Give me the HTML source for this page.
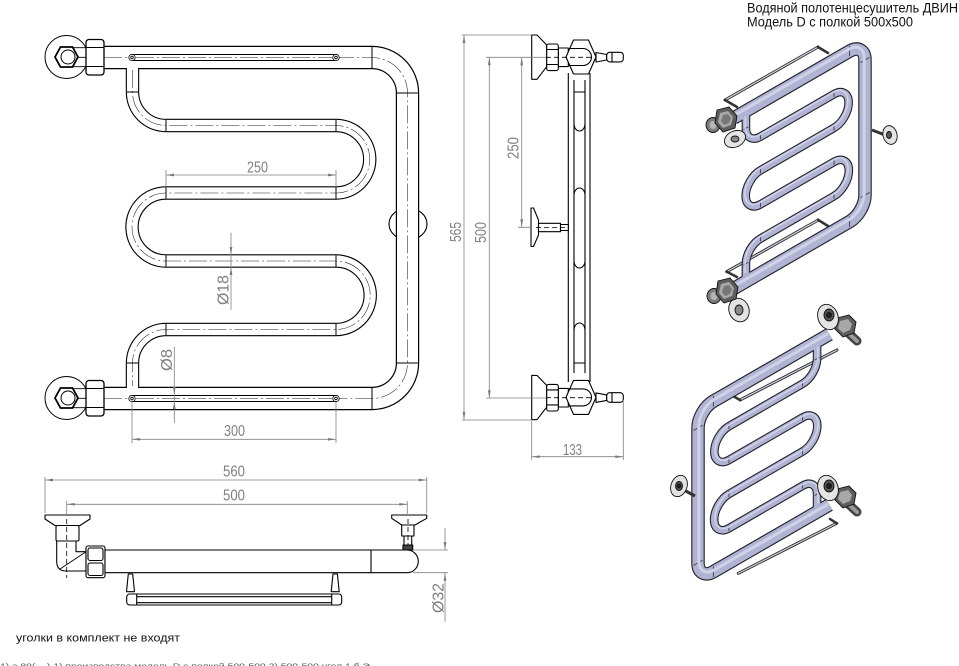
<!DOCTYPE html>
<html><head><meta charset="utf-8">
<style>
html,body{margin:0;padding:0;background:#fff;}
svg{display:block;}
text{font-family:"Liberation Sans","DejaVu Sans",sans-serif;}
</style></head><body>
<svg width="959" height="666" viewBox="0 0 959 666" xmlns="http://www.w3.org/2000/svg">
<defs>
<marker id="ar" viewBox="0 0 10 4" refX="10" refY="2" markerWidth="9" markerHeight="3.2" orient="auto-start-reverse" markerUnits="userSpaceOnUse"><path d="M0 0.3 L10 2 L0 3.7 Z" fill="#7a7a7a"/></marker>
<g id="sfit" stroke="#000" stroke-width="1.1" fill="#fff" stroke-linejoin="round">
 <path d="M531.7 35H537L546.7 45V66.7L537 79.3H531.7Z"/>
 <rect x="558.3" y="48" width="10" height="18.6"/>
 <rect x="546.7" y="44" width="11.6" height="26.6" rx="2"/>
 <path d="M546.7 49.5H558.3M546.7 64.5H558.3" fill="none"/>
 <path d="M566 57L573.5 40H588.5L596 57L588.5 74H573.5Z"/>
 <path d="M569 48.5H583A8.5 8.5 0 0 1 583 65.5H569" fill="none"/>
 <path d="M596 52.5L606.7 54.5V60L596 62Z"/>
 <rect x="606.7" y="52.3" width="16.6" height="9.6" rx="3"/>
 <path d="M612 52.3V61.9" fill="none"/>
 <path d="M546 57.3H592" stroke-dasharray="5 3" stroke-width="0.8" fill="none"/>
</g>
<g id="ffit" fill="none" stroke="#000">
 <circle cx="66.5" cy="57" r="21.5" stroke-width="1"/>
 <path d="M72 47.7H86M72 57.3H86M72 66.7H86" stroke-width="0.9"/>
 <polygon points="55,57 60.5,47 72.5,47 78,57 72.5,67 60.5,67" fill="#fff" stroke-width="1.8"/>
 <circle cx="68" cy="57" r="7" stroke-width="1"/>
 <rect x="86" y="39.5" width="18" height="35.5" rx="3" fill="#fff" stroke-width="1.3"/>
 <path d="M86 47.5H104M86 66.5H104" stroke-width="1"/>
</g>
<g id="isofit" stroke="#111" stroke-width="0.9">
 <ellipse cx="-10" cy="4" rx="7" ry="7.5" fill="#7c7c7c"/>
 <ellipse cx="-10" cy="4" rx="3.5" ry="4" fill="#b5b5b5" stroke="none"/>
 <polygon points="-6,-11 6,-14 14,-5 12,7 0,11 -8,2" fill="#5e5e5e"/>
 <polygon points="-3,-8 5,-10 10,-4 8,4 0,7 -5,1" fill="#a8a8a8" stroke="none"/>
 <polygon points="0,-6 5,-7 8,-3 6,2 1,4 -2,0" fill="#777" stroke="none"/>
</g>
<g id="isofit2" stroke="#111" stroke-width="0.9">
 <path d="M2 3L14 14" stroke="#444" stroke-width="9" stroke-linecap="round"/>
 <path d="M2 3L14 14" stroke="#9a9a9a" stroke-width="4" stroke-linecap="round"/>
 <polygon points="-6,-9 6,-12 13,-5 11,6 0,10 -8,2" fill="#5e5e5e"/>
 <polygon points="-3,-6 5,-8 9,-3 7,3 0,6 -5,1" fill="#a8a8a8" stroke="none"/>
 <ellipse cx="-15" cy="-10" rx="10" ry="13" transform="rotate(-20 -15 -10)" fill="#e4e4e4"/>
 <ellipse cx="-14" cy="-12" rx="5" ry="6" fill="#555"/>
 <circle cx="-14" cy="-12" r="2.5" fill="#222"/>
</g>
</defs>

<!-- ================= FRONT VIEW ================= -->
<g fill="none" stroke-linejoin="round">
 <ellipse cx="408" cy="224" rx="19" ry="16" fill="#fff" stroke="#000" stroke-width="1.1"/>
 <path d="M104 57.5H372A35.5 35.5 0 0 1 407.5 93V363A35.5 35.5 0 0 1 372 398.5H104" stroke="#000" stroke-width="23.4"/>
 <path d="M132.5 60V92A33.5 33.5 0 0 0 166 125.5H336A33.75 33.75 0 0 1 336 193H166A34 34 0 0 0 166 261H336A34.25 34.25 0 0 1 336 329.5H166A33.5 33.5 0 0 0 132.5 363V396" stroke="#000" stroke-width="13.4"/>
 <path d="M104 57.5H372A35.5 35.5 0 0 1 407.5 93V363A35.5 35.5 0 0 1 372 398.5H104" stroke="#fff" stroke-width="21"/>
 <path d="M132.5 60V92A33.5 33.5 0 0 0 166 125.5H336A33.75 33.75 0 0 1 336 193H166A34 34 0 0 0 166 261H336A34.25 34.25 0 0 1 336 329.5H166A33.5 33.5 0 0 0 132.5 363V396" stroke="#fff" stroke-width="11.2"/>
 <path d="M336 57.5H372A35.5 35.5 0 0 1 407.5 93V363A35.5 35.5 0 0 1 372 398.5H336" stroke="#222" stroke-width="0.55" stroke-dasharray="18 3 2 3"/>
 <path d="M132.5 70V92A33.5 33.5 0 0 0 166 125.5H336A33.75 33.75 0 0 1 336 193H166A34 34 0 0 0 166 261H336A34.25 34.25 0 0 1 336 329.5H166A33.5 33.5 0 0 0 132.5 363V386" stroke="#222" stroke-width="0.55" stroke-dasharray="18 3 2 3"/>
 <path d="M372 46.8V68.2M372 387.8V409.2M396.8 93H418.2M396.8 363H418.2M126.9 92H138.1M126.9 363H138.1M166 119.9V131.1M336 119.9V131.1M166 187.4V198.6M336 187.4V198.6M166 255.4V266.6M336 255.4V266.6M166 323.9V335.1M336 323.9V335.1" stroke="#000" stroke-width="1"/>
 <rect x="132" y="54.5" width="204" height="6" fill="#fff" stroke="#000" stroke-width="0.9"/>
 <rect x="132" y="395.5" width="204" height="6" fill="#fff" stroke="#000" stroke-width="0.9"/>
 <path d="M136 57.5H332M136 398.5H332M104 57.5H128M104 398.5H128" stroke="#222" stroke-width="0.55" stroke-dasharray="18 3 2 3"/>
 <g fill="#fff" stroke="#000" stroke-width="0.8">
  <circle cx="132" cy="57.5" r="3.2"/><circle cx="336" cy="57.5" r="3.2"/>
  <circle cx="132" cy="398.5" r="3.2"/><circle cx="336" cy="398.5" r="3.2"/>
  <circle cx="132" cy="57.5" r="1.3"/><circle cx="336" cy="57.5" r="1.3"/>
  <circle cx="132" cy="398.5" r="1.3"/><circle cx="336" cy="398.5" r="1.3"/>
 </g>
</g>
<use href="#ffit"/>
<use href="#ffit" transform="translate(0,341)"/>

<g fill="none" stroke="#808080" stroke-width="0.8">
 <path d="M166 170V187M336 170V187"/>
 <path d="M166 175H336" marker-start="url(#ar)" marker-end="url(#ar)"/>
 <path d="M132 402V443M336 402V443"/>
 <path d="M132 439.3H336" marker-start="url(#ar)" marker-end="url(#ar)"/>
 <path d="M231 255V267"/>
 <path d="M231 232.7V255" marker-end="url(#ar)"/>
 <path d="M231 310V267" marker-end="url(#ar)"/>
 <path d="M174.3 395V401"/>
 <path d="M174.3 346.7V395" marker-end="url(#ar)"/>
 <path d="M174.3 423V401" marker-end="url(#ar)"/>
</g>
<g fill="#7f7f7f" font-size="16" text-anchor="middle">
 <text x="257.5" y="172.5" textLength="21" lengthAdjust="spacingAndGlyphs">250</text>
 <text x="234.5" y="436" textLength="21" lengthAdjust="spacingAndGlyphs">300</text>
 <text transform="translate(228.5,290) rotate(-90)" textLength="30" lengthAdjust="spacingAndGlyphs">Ø18</text>
 <text transform="translate(172,360) rotate(-90)" textLength="22" lengthAdjust="spacingAndGlyphs">Ø8</text>
</g>

<!-- ================= SIDE VIEW ================= -->
<g fill="none" stroke="#000" stroke-width="1.1" stroke-linejoin="round">
 <path d="M568.3 73V382M590 73V382M574 80V373M585 80V373"/>
 <path d="M574 92H585M574 363H585"/>
 <path d="M574 124A5.5 7 0 0 0 585 124M574 195A5.5 7 0 0 1 585 195M574 261A5.5 7 0 0 0 585 261M574 330A5.5 7 0 0 1 585 330"/>
 <path d="M531 208H533.5L538.5 220V235L533.5 246.5H531Z" fill="#fff"/>
 <rect x="538.5" y="223.3" width="22" height="8.4" fill="#fff"/>
 <rect x="560.5" y="224.5" width="7.8" height="6" fill="#fff"/>
 <path d="M536 227.4H566" stroke-dasharray="5 3" stroke-width="0.8"/>
</g>
<use href="#sfit"/>
<use href="#sfit" transform="translate(0,340.4)"/>
<g fill="none" stroke="#808080" stroke-width="0.8">
 <path d="M462 35H531.7M462 420H531.7M486 57.3H546M486 398H546M518 227.3H531M531.7 421V460M623.3 400V460"/>
 <path d="M464 35V420" marker-start="url(#ar)" marker-end="url(#ar)"/>
 <path d="M489.3 57.3V398.3" marker-start="url(#ar)" marker-end="url(#ar)"/>
 <path d="M521.7 57.3V227.3" marker-start="url(#ar)" marker-end="url(#ar)"/>
 <path d="M531.7 456.7H623.3" marker-start="url(#ar)" marker-end="url(#ar)"/>
</g>
<g fill="#7f7f7f" font-size="16" text-anchor="middle">
 <text transform="translate(461,232) rotate(-90)" textLength="20" lengthAdjust="spacingAndGlyphs">565</text>
 <text transform="translate(486,232.5) rotate(-90)" textLength="21" lengthAdjust="spacingAndGlyphs">500</text>
 <text transform="translate(518.5,148) rotate(-90)" textLength="22" lengthAdjust="spacingAndGlyphs">250</text>
 <text x="572.5" y="455" textLength="19" lengthAdjust="spacingAndGlyphs">133</text>
</g>

<!-- ================= BOTTOM VIEW ================= -->
<g stroke="#000" stroke-width="1.1" fill="#fff" stroke-linejoin="round">
 <path d="M45 515H90V519L80 525.5H55L45 519Z"/>
 <rect x="56" y="525.5" width="23" height="15.5" rx="1.5"/>
 <path d="M56.7 541V562Q57 571 66 571H86V551.7H76V541Z"/>
 <path d="M60 569L86 551.7" fill="none" stroke-width="0.9"/>
 <rect x="86" y="546" width="19" height="31.7" rx="2"/>
 <rect x="88" y="548" width="15" height="12.5" rx="2"/>
 <rect x="88" y="563" width="15" height="12.5" rx="2"/>
 <path d="M105 550H407A11.3 11.35 0 0 1 407 572.7H105Z"/>
 <path d="M371 550V572.7" fill="none"/>
 <path d="M391.7 515H426.7V518.3L415 525H401.7L391.7 518.3Z"/>
 <rect x="401.7" y="525" width="12.3" height="11"/>
 <rect x="404" y="536" width="7.7" height="9"/>
 <rect x="403" y="545" width="9.7" height="5" fill="#444"/>
 <path d="M128.3 574H132.7L134.5 591.7H126.5Z"/>
 <path d="M333 574H337.4L339.2 591.7H331.2Z"/>
 <rect x="126.7" y="594" width="215" height="11" rx="3"/>
 <path d="M136.7 596.7H331.7M136.7 602.7H331.7M136.7 594V605M331.7 594V605" fill="none"/>
 <path d="M408 519V545M66.7 519V578" fill="none" stroke-dasharray="5 3" stroke-width="0.8"/>
</g>
<g fill="none" stroke="#808080" stroke-width="0.8">
 <path d="M45 477V513M426.7 477V513M66.7 501V516M407.3 501V515M413 550H448M413 572.7H448"/>
 <path d="M45 480H426.7" marker-start="url(#ar)" marker-end="url(#ar)"/>
 <path d="M66.7 504.3H407.3" marker-start="url(#ar)" marker-end="url(#ar)"/>
 <path d="M445 528V550" marker-end="url(#ar)"/>
 <path d="M445 621.7V572.7" marker-end="url(#ar)"/>
</g>
<g fill="#7f7f7f" font-size="16" text-anchor="middle">
 <text x="234" y="476.7" textLength="22" lengthAdjust="spacingAndGlyphs">560</text>
 <text x="234" y="500.7" textLength="22" lengthAdjust="spacingAndGlyphs">500</text>
 <text transform="translate(443.5,598) rotate(-90)" textLength="30" lengthAdjust="spacingAndGlyphs">Ø32</text>
</g>

<!-- ================= ISO VIEW 1 (top) ================= -->
<g stroke-linecap="round">
 <path d="M725 100L818 47M726.7 271.7L818.3 220" stroke="#222" stroke-width="3"/>
 <path d="M725 100L818 47M726.7 271.7L818.3 220" stroke="#c8c9d8" stroke-width="1.3"/>
 <path d="M725 100L737 107M818 47L828 53M726.7 271.7L737 277M818.3 220L828 226" stroke="#333" stroke-width="2.5"/>
</g>
<g transform="matrix(0.433,-0.25,0,0.5,688.55,115.375)" fill="none" stroke-linejoin="round">
 <path d="M104 57.5H372A35.5 35.5 0 0 1 407.5 93V363A35.5 35.5 0 0 1 372 398.5H104" stroke="#23232e" stroke-width="13.5" vector-effect="non-scaling-stroke"/>
 <path d="M132.5 60V92A33.5 33.5 0 0 0 166 125.5H336A33.75 33.75 0 0 1 336 193H166A34 34 0 0 0 166 261H336A34.25 34.25 0 0 1 336 329.5H166A33.5 33.5 0 0 0 132.5 363V396" stroke="#23232e" stroke-width="8.6" vector-effect="non-scaling-stroke"/>
 <path d="M104 57.5H372A35.5 35.5 0 0 1 407.5 93V363A35.5 35.5 0 0 1 372 398.5H104" stroke="#b1b3d3" stroke-width="11.2" vector-effect="non-scaling-stroke"/>
 <path d="M132.5 60V92A33.5 33.5 0 0 0 166 125.5H336A33.75 33.75 0 0 1 336 193H166A34 34 0 0 0 166 261H336A34.25 34.25 0 0 1 336 329.5H166A33.5 33.5 0 0 0 132.5 363V396" stroke="#b1b3d3" stroke-width="6.4" vector-effect="non-scaling-stroke"/>
 <path d="M372 47V68M372 388V409M397 93H418M397 363H418M127 92H138M127 363H138M166 120V131M336 120V131M166 187V199M336 187V199M166 255V267M336 255V267M166 324V335M336 324V335" stroke="#3a3a50" stroke-width="0.9" vector-effect="non-scaling-stroke"/>
</g>
<g transform="translate(-0.8,-1.8)"><g transform="matrix(0.433,-0.25,0,0.5,688.55,115.375)" fill="none">
 <path d="M108 57.5H372A35.5 35.5 0 0 1 407.5 93V363A35.5 35.5 0 0 1 372 398.5H108" stroke="#d0d2e8" stroke-width="3" vector-effect="non-scaling-stroke"/>
 <path d="M132.5 72V92A33.5 33.5 0 0 0 166 125.5H336A33.75 33.75 0 0 1 336 193H166A34 34 0 0 0 166 261H336A34.25 34.25 0 0 1 336 329.5H166A33.5 33.5 0 0 0 132.5 363V385" stroke="#d0d2e8" stroke-width="1.6" vector-effect="non-scaling-stroke"/>
</g></g>
<g stroke="#111" stroke-width="0.9">
 <path d="M872 130L885 135" stroke="#333" stroke-width="3"/>
 <ellipse cx="890" cy="135" rx="7" ry="9.5" transform="rotate(-15 890 135)" fill="#e2e2e2"/>
 <ellipse cx="889" cy="135" rx="2.5" ry="3.5" fill="#555"/>
 <ellipse cx="735" cy="139" rx="11" ry="8" transform="rotate(-25 735 139)" fill="#e4e4e4"/>
 <ellipse cx="735" cy="139" rx="4" ry="3" fill="#888"/>
 <ellipse cx="739" cy="310" rx="10" ry="12" transform="rotate(-20 739 310)" fill="#e4e4e4"/>
 <ellipse cx="739" cy="310" rx="4" ry="5" fill="#888"/>
</g>
<use href="#isofit" transform="translate(723,121)"/>
<use href="#isofit" transform="translate(724,292)"/>

<!-- ================= ISO VIEW 2 (bottom, mirrored) ================= -->
<g stroke-linecap="round">
 <path d="M837 350L740 400M836.7 523.3L738.3 573.3" stroke="#222" stroke-width="3"/>
 <path d="M837 350L740 400M836.7 523.3L738.3 573.3" stroke="#c8c9d8" stroke-width="1.3"/>
 <path d="M740 400L733 396M836.7 523.3L830 519" stroke="#333" stroke-width="2.5"/>
</g>
<g transform="matrix(-0.433,0.25,0,0.5,874.45,279.5)" fill="none" stroke-linejoin="round">
 <path d="M104 57.5H372A35.5 35.5 0 0 1 407.5 93V363A35.5 35.5 0 0 1 372 398.5H104" stroke="#23232e" stroke-width="13.5" vector-effect="non-scaling-stroke"/>
 <path d="M132.5 60V92A33.5 33.5 0 0 0 166 125.5H336A33.75 33.75 0 0 1 336 193H166A34 34 0 0 0 166 261H336A34.25 34.25 0 0 1 336 329.5H166A33.5 33.5 0 0 0 132.5 363V396" stroke="#23232e" stroke-width="8.6" vector-effect="non-scaling-stroke"/>
 <path d="M104 57.5H372A35.5 35.5 0 0 1 407.5 93V363A35.5 35.5 0 0 1 372 398.5H104" stroke="#b1b3d3" stroke-width="11.2" vector-effect="non-scaling-stroke"/>
 <path d="M132.5 60V92A33.5 33.5 0 0 0 166 125.5H336A33.75 33.75 0 0 1 336 193H166A34 34 0 0 0 166 261H336A34.25 34.25 0 0 1 336 329.5H166A33.5 33.5 0 0 0 132.5 363V396" stroke="#b1b3d3" stroke-width="6.4" vector-effect="non-scaling-stroke"/>
 <path d="M372 47V68M372 388V409M397 93H418M397 363H418M127 92H138M127 363H138M166 120V131M336 120V131M166 187V199M336 187V199M166 255V267M336 255V267M166 324V335M336 324V335" stroke="#3a3a50" stroke-width="0.9" vector-effect="non-scaling-stroke"/>
</g>
<g transform="translate(0.8,-1.8)"><g transform="matrix(-0.433,0.25,0,0.5,874.45,279.5)" fill="none">
 <path d="M108 57.5H372A35.5 35.5 0 0 1 407.5 93V363A35.5 35.5 0 0 1 372 398.5H108" stroke="#d0d2e8" stroke-width="3" vector-effect="non-scaling-stroke"/>
 <path d="M132.5 72V92A33.5 33.5 0 0 0 166 125.5H336A33.75 33.75 0 0 1 336 193H166A34 34 0 0 0 166 261H336A34.25 34.25 0 0 1 336 329.5H166A33.5 33.5 0 0 0 132.5 363V385" stroke="#d0d2e8" stroke-width="1.6" vector-effect="non-scaling-stroke"/>
</g></g>
<g stroke="#111" stroke-width="0.9">
 <path d="M684 490L695 496" stroke="#333" stroke-width="3"/>
 <ellipse cx="679" cy="486" rx="8" ry="11" transform="rotate(20 679 486)" fill="#e2e2e2"/>
 <ellipse cx="679" cy="486" rx="3.5" ry="4.5" fill="#555"/>
 <circle cx="679" cy="486" r="1.8" fill="#222"/>
</g>
<use href="#isofit2" transform="translate(843,327)"/>
<use href="#isofit2" transform="translate(843,498)"/>

<!-- ================= TEXTS ================= -->
<g fill="#111" font-size="13.5">
 <text x="747" y="12.5" textLength="211" lengthAdjust="spacingAndGlyphs">Водяной полотенцесушитель ДВИН</text>
 <text x="747" y="26.5" textLength="166" lengthAdjust="spacingAndGlyphs">Модель D с полкой 500x500</text>
</g>
<text x="16" y="641.5" font-size="11" fill="#111" textLength="164" lengthAdjust="spacingAndGlyphs">уголки в комплект не входят</text>
<text x="0" y="668.5" font-size="7" fill="#555" textLength="370" lengthAdjust="spacingAndGlyphs">1) э.89( ...) 1) производства модель D с полкой 500-500 2) 500-500 угол 1 б Э</text>
</svg>
</body></html>
